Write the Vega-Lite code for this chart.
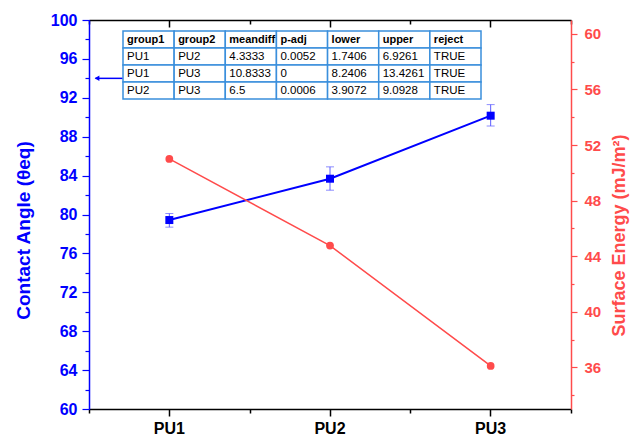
{
  "$schema": "https://vega.github.io/schema/vega-lite/v6.json",
  "width": 482,
  "height": 389,
  "autosize": {"type": "none"},
  "padding": {"left": 89, "top": 20, "right": 61, "bottom": 29},
  "config": {
    "view": {"stroke": null},
    "font": "Liberation Sans",
    "axis": {"grid": false, "labelFont": "Liberation Sans", "titleFont": "Liberation Sans", "labelOverlap": false}
  },
  "datasets": {
    "main": [
      {"sample": "PU1", "angle": 79.43, "lo": 78.7, "hi": 80.1, "energy": 51.0},
      {"sample": "PU2", "angle": 83.68, "lo": 82.5, "hi": 84.9, "energy": 44.76},
      {"sample": "PU3", "angle": 90.16, "lo": 89.1, "hi": 91.3, "energy": 36.1}
    ],
    "arrow": [{"sample": "PU1", "angle": 94}],
    "table": [
      {"row": 0, "col": "group1", "text": "group1"},
      {"row": 0, "col": "group2", "text": "group2"},
      {"row": 0, "col": "meandiff", "text": "meandiff"},
      {"row": 0, "col": "p-adj", "text": "p-adj"},
      {"row": 0, "col": "lower", "text": "lower"},
      {"row": 0, "col": "upper", "text": "upper"},
      {"row": 0, "col": "reject", "text": "reject"},
      {"row": 1, "col": "group1", "text": "PU1"},
      {"row": 1, "col": "group2", "text": "PU2"},
      {"row": 1, "col": "meandiff", "text": "4.3333"},
      {"row": 1, "col": "p-adj", "text": "0.0052"},
      {"row": 1, "col": "lower", "text": "1.7406"},
      {"row": 1, "col": "upper", "text": "6.9261"},
      {"row": 1, "col": "reject", "text": "TRUE"},
      {"row": 2, "col": "group1", "text": "PU1"},
      {"row": 2, "col": "group2", "text": "PU3"},
      {"row": 2, "col": "meandiff", "text": "10.8333"},
      {"row": 2, "col": "p-adj", "text": "0"},
      {"row": 2, "col": "lower", "text": "8.2406"},
      {"row": 2, "col": "upper", "text": "13.4261"},
      {"row": 2, "col": "reject", "text": "TRUE"},
      {"row": 3, "col": "group1", "text": "PU2"},
      {"row": 3, "col": "group2", "text": "PU3"},
      {"row": 3, "col": "meandiff", "text": "6.5"},
      {"row": 3, "col": "p-adj", "text": "0.0006"},
      {"row": 3, "col": "lower", "text": "3.9072"},
      {"row": 3, "col": "upper", "text": "9.0928"},
      {"row": 3, "col": "reject", "text": "TRUE"}
    ]
  },
  "layer": [
    {
      "data": {"name": "main"},
      "layer": [
        {
          "mark": {"type": "rule", "color": "#5C5CFF", "strokeWidth": 1},
          "encoding": {
            "x": {"field": "sample", "type": "nominal", "scale": {"type": "band", "paddingInner": 0, "paddingOuter": 0},
              "axis": {"orient": "bottom", "title": null, "domainColor": "black", "domainWidth": 1.5, "tickColor": "black", "tickSize": 7, "tickWidth": 1.5, "labelColor": "black", "labelFontSize": 16, "labelFontWeight": "bold", "labelPadding": 4, "labelAngle": 0}},
            "y": {"field": "lo", "type": "quantitative", "scale": {"domain": [60, 100], "nice": false, "zero": false},
              "axis": {"orient": "left", "title": "Contact Angle (θeq)", "values": [60, 64, 68, 72, 76, 80, 84, 88, 92, 96, 100], "domainColor": "#0000FF", "domainWidth": 1.5, "tickColor": "#0000FF", "tickSize": 7, "tickWidth": 1.2, "labelColor": "#0000FF", "labelFontSize": 16, "labelFontWeight": "bold", "labelPadding": 5, "titleColor": "#0000FF", "titleFontSize": 19, "titleFontWeight": "bold", "titlePadding": 17, "titleY": 210}},
            "y2": {"field": "hi"}
          }
        },
        {
          "mark": {"type": "line", "color": "#0000FF", "strokeWidth": 2},
          "encoding": {
            "x": {"field": "sample", "type": "nominal", "scale": {"type": "band", "paddingInner": 0, "paddingOuter": 0},
              "axis": {"orient": "bottom", "title": null, "domain": false, "labels": false, "tickBand": "extent", "tickColor": "black", "tickSize": 4, "tickWidth": 1.5}},
            "y": {"field": "angle", "type": "quantitative", "scale": {"domain": [60, 100], "nice": false, "zero": false},
              "axis": {"orient": "left", "title": null, "values": [62, 66, 70, 74, 78, 82, 86, 90, 94, 98], "domain": false, "labels": false, "tickColor": "#0000FF", "tickSize": 4, "tickWidth": 1.2}}
          }
        },
        {
          "mark": {"type": "tick", "orient": "horizontal", "color": "#5C5CFF", "size": 8, "thickness": 1},
          "encoding": {
            "x": {"field": "sample", "type": "nominal", "scale": {"type": "band", "paddingInner": 0, "paddingOuter": 0},
              "axis": {"orient": "bottom", "offset": -389, "title": null, "domainColor": "black", "domainWidth": 1.5, "tickColor": "black", "tickSize": 7, "tickWidth": 1.5, "labels": false}},
            "y": {"field": "lo", "type": "quantitative", "scale": {"domain": [60, 100], "nice": false, "zero": false}, "axis": null}
          }
        },
        {
          "mark": {"type": "tick", "orient": "horizontal", "color": "#5C5CFF", "size": 8, "thickness": 1},
          "encoding": {
            "x": {"field": "sample", "type": "nominal", "scale": {"type": "band", "paddingInner": 0, "paddingOuter": 0},
              "axis": {"orient": "bottom", "offset": -389, "title": null, "domain": false, "labels": false, "tickBand": "extent", "tickColor": "black", "tickSize": 4, "tickWidth": 1.5}},
            "y": {"field": "hi", "type": "quantitative", "scale": {"domain": [60, 100], "nice": false, "zero": false}, "axis": null}
          }
        },
        {
          "mark": {"type": "point", "shape": "square", "filled": true, "color": "#0000FF", "size": 64, "opacity": 1},
          "encoding": {
            "x": {"field": "sample", "type": "nominal", "scale": {"type": "band", "paddingInner": 0, "paddingOuter": 0}, "axis": null},
            "y": {"field": "angle", "type": "quantitative", "scale": {"domain": [60, 100], "nice": false, "zero": false}, "axis": null}
          }
        },
        {
          "data": {"name": "arrow"},
          "mark": {"type": "rule", "color": "#0000FF", "strokeWidth": 1.5},
          "encoding": {
            "x": {"field": "sample", "type": "nominal", "bandPosition": 0.04, "scale": {"type": "band", "paddingInner": 0, "paddingOuter": 0}, "axis": null},
            "x2": {"field": "sample", "bandPosition": 0.21},
            "y": {"field": "angle", "type": "quantitative", "scale": {"domain": [60, 100], "nice": false, "zero": false}, "axis": null}
          }
        },
        {
          "data": {"name": "arrow"},
          "mark": {"type": "point", "shape": "triangle-left", "filled": true, "color": "#0000FF", "size": 30, "opacity": 1},
          "encoding": {
            "x": {"field": "sample", "type": "nominal", "bandPosition": 0.05, "scale": {"type": "band", "paddingInner": 0, "paddingOuter": 0}, "axis": null},
            "y": {"field": "angle", "type": "quantitative", "scale": {"domain": [60, 100], "nice": false, "zero": false}, "axis": null}
          }
        }
      ],
      "resolve": {"axis": {"x": "independent", "y": "independent"}}
    },
    {
      "data": {"name": "main"},
      "layer": [
        {
          "mark": {"type": "line", "color": "#FF4B4B", "strokeWidth": 1.5},
          "encoding": {
            "x": {"field": "sample", "type": "nominal", "scale": {"type": "band", "paddingInner": 0, "paddingOuter": 0}, "axis": null},
            "y": {"field": "energy", "type": "quantitative", "scale": {"domain": [33, 61], "nice": false, "zero": false},
              "axis": {"orient": "right", "title": "Surface Energy (mJ/m²)", "values": [36, 40, 44, 48, 52, 56, 60], "domainColor": "#FF4B4B", "domainWidth": 1.5, "tickColor": "#FF4B4B", "tickSize": 6, "tickWidth": 1.2, "labelColor": "#FF4B4B", "labelFontSize": 15, "labelFontWeight": "bold", "labelPadding": 7, "titleColor": "#FF4B4B", "titleFontSize": 18, "titleFontWeight": "bold", "titlePadding": 10, "titleAngle": -90, "titleBaseline": "top", "titleY": 215}}
          }
        },
        {
          "mark": {"type": "point", "shape": "circle", "filled": true, "color": "#FF4B4B", "size": 60, "opacity": 1},
          "encoding": {
            "x": {"field": "sample", "type": "nominal", "scale": {"type": "band", "paddingInner": 0, "paddingOuter": 0}, "axis": null},
            "y": {"field": "energy", "type": "quantitative", "scale": {"domain": [33, 61], "nice": false, "zero": false},
              "axis": {"orient": "right", "title": null, "values": [34, 38, 42, 46, 50, 54, 58], "domain": false, "labels": false, "tickColor": "#FF4B4B", "tickSize": 3, "tickWidth": 1.2}}
          }
        }
      ],
      "resolve": {"axis": {"y": "independent"}}
    },
    {
      "data": {"name": "table"},
      "layer": [
        {
          "mark": {"type": "rect", "fill": "white", "stroke": "#3A8FDC", "strokeWidth": 1.5},
          "encoding": {
            "x": {"field": "col", "type": "nominal", "scale": {"type": "band", "domain": ["group1", "group2", "meandiff", "p-adj", "lower", "upper", "reject"], "range": [34, 392], "paddingInner": 0, "paddingOuter": 0}, "axis": null},
            "y": {"field": "row", "type": "ordinal", "scale": {"type": "band", "domain": [0, 1, 2, 3], "range": [11, 79], "paddingInner": 0, "paddingOuter": 0}, "axis": null}
          }
        },
        {
          "transform": [{"filter": "datum.row === 0"}],
          "mark": {"type": "text", "align": "left", "baseline": "middle", "dx": 4, "fontSize": 11, "fontWeight": "bold", "color": "black"},
          "encoding": {
            "x": {"field": "col", "type": "nominal", "bandPosition": 0, "scale": {"type": "band", "domain": ["group1", "group2", "meandiff", "p-adj", "lower", "upper", "reject"], "range": [34, 392], "paddingInner": 0, "paddingOuter": 0}, "axis": null},
            "y": {"field": "row", "type": "ordinal", "scale": {"type": "band", "domain": [0, 1, 2, 3], "range": [11, 79], "paddingInner": 0, "paddingOuter": 0}, "axis": null},
            "text": {"field": "text"}
          }
        },
        {
          "transform": [{"filter": "datum.row > 0"}],
          "mark": {"type": "text", "align": "left", "baseline": "middle", "dx": 4, "fontSize": 11.5, "color": "black"},
          "encoding": {
            "x": {"field": "col", "type": "nominal", "bandPosition": 0, "scale": {"type": "band", "domain": ["group1", "group2", "meandiff", "p-adj", "lower", "upper", "reject"], "range": [34, 392], "paddingInner": 0, "paddingOuter": 0}, "axis": null},
            "y": {"field": "row", "type": "ordinal", "scale": {"type": "band", "domain": [0, 1, 2, 3], "range": [11, 79], "paddingInner": 0, "paddingOuter": 0}, "axis": null},
            "text": {"field": "text"}
          }
        }
      ]
    }
  ],
  "resolve": {"scale": {"x": "independent", "y": "independent"}, "axis": {"x": "independent", "y": "independent"}}
}
